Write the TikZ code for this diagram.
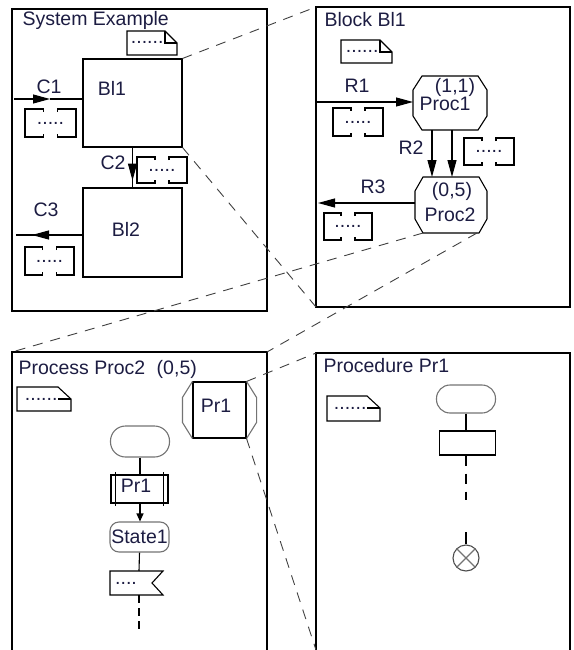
\documentclass[tikz,border=0pt]{standalone}
\usepackage{fontspec}
\setmainfont{Liberation Sans}
\usetikzlibrary{arrows.meta}
\definecolor{txtc}{RGB}{28,28,66}
\definecolor{grc}{RGB}{115,115,115}

% signal list brackets: name, x1, y1, x2, y2
\newcommand\sigbox[5]{%
  \draw ({(#2+#4)/2-7},{#3+3}) -- ({(#2+#4)/2-7},#3) -- (#2,#3) -- (#2,#5) -- ({(#2+#4)/2-7},#5) -- ({(#2+#4)/2-7},{#5-3});
  \draw ({(#2+#4)/2+7},{#3+3}) -- ({(#2+#4)/2+7},#3) -- (#4,#3) -- (#4,#5) -- ({(#2+#4)/2+7},#5) -- ({(#2+#4)/2+7},{#5-3});
  \node[dots] (#1) at ({(#2+#4)/2},{(#3+#5)/2}) {.....};
}
% comment (note) symbol with folded corner
\newcommand\notesym[5]{%
  \draw (#2,#3) -- ({#4-12},#3) -- (#4,{#3+12}) -- (#4,#5) -- (#2,#5) -- cycle;
  \draw ({#4-12},#3) -- ({#4-12},{#3+12}) -- (#4,{#3+12});
  \node[dots,anchor=base east] (#1) at ({#4-13},{#3+13}) {......};
}
% text symbol with cut corner
\newcommand\txtsym[5]{%
  \draw (#2,#3) -- ({#4-13},#3) -- (#4,{#3+12}) -- (#4,#5) -- (#2,#5) -- cycle;
  \draw ({#4-13},{#3+12}) -- (#4,{#3+12});
  \node[dots,anchor=base east] (#1) at ({#4-13},{#3+13}) {......};
}
% octagon (process): name, cx, cy, w, h, dx, dy
\newcommand\octa[7]{%
  \node[inner sep=0pt,outer sep=0pt,minimum width=#4pt,minimum height=#5pt] (#1) at (#2,#3) {};
  \draw ([xshift=#6pt]#1.north west) -- ([xshift=-#6pt]#1.north east) -- ([yshift=-#7pt]#1.north east) -- ([yshift=#7pt]#1.south east) -- ([xshift=-#6pt]#1.south east) -- ([xshift=#6pt]#1.south west) -- ([yshift=#7pt]#1.south west) -- ([yshift=-#7pt]#1.north west) -- cycle;
}

\begin{document}
\begin{tikzpicture}[x=1pt,y=-1pt,line width=1.1pt,
  font=\fontsize{19.5}{23}\selectfont,
  lbl/.style={text=txtc,inner sep=0pt},
  dots/.style={text=txtc,inner sep=0pt},
  zoomln/.style={draw=black!75,line width=0.9pt,dash pattern=on 10pt off 8pt},
  bigtip/.style={-{Triangle[length=17pt,width=9pt]}},
  smalltip/.style={-{Triangle[length=8pt,width=7pt]}},
  blk/.style={draw,inner sep=0pt,minimum width=99pt,minimum height=88pt},
  soft/.style={draw=grc,inner sep=0pt},
  frame/.style={line width=1.3pt},
]
\useasboundingbox (0,0) rectangle (573,650);

% frames
\draw[frame] (12,9) rectangle (267,311);
\draw[frame] (316,7) rectangle (570,307);
\draw[frame] (12,650) -- (12,352) -- (267,352) -- (267,650);
\draw[frame] (316,650) -- (316,353) -- (570,353) -- (570,650);
\coordinate (f2nw) at (316,7);
\coordinate (f2sw) at (316,307);
\coordinate (f3nw) at (12,352);
\coordinate (f3ne) at (267,352);
\coordinate (f4nw) at (316,353);
\coordinate (f4sw) at (316,650);

% ---------- Panel 1: System Example
\node[lbl,anchor=base west] (t1) at (22,26) {System Example};
\notesym{n1}{127}{31}{177}{55}
\node[blk] (bl1) at (132.5,103) {};
\node[lbl] (bl1l) at (112,88) {Bl1};
\node[blk,minimum height=89pt] (bl2) at (132.5,232.5) {};
\node[lbl] (bl2l) at (126,229) {Bl2};

\coordinate (c1a) at (14,99);
\draw[bigtip] (c1a) -- (50,99);
\draw (50,99) -- (bl1.west |- c1a);
\node[lbl] (c1l) at (49,87) {C1};
\sigbox{s1}{25}{109}{76}{137}

\draw (bl1.south) -- (bl2.north);
\draw[bigtip] (bl1.south) -- ([yshift=-33pt]bl1.south);
\node[lbl] (c2l) at (113,163) {C2};
\sigbox{s2}{137}{157}{187}{183}

\coordinate (c3a) at (16,235);
\draw (bl2.west |- c3a) -- (c3a);
\draw[bigtip] (bl2.west |- c3a) -- (32,235);
\node[lbl] (c3l) at (46,210) {C3};
\sigbox{s3}{25}{247}{74}{275}

% ---------- Panel 2: Block Bl1
\node[lbl,anchor=base west] (t2) at (324,27) {Block Bl1};
\notesym{n2}{341}{40}{392}{63}
\octa{proc1}{450}{103}{74}{54}{9}{14}
\node[lbl] (p1a) at (455,87) {(1,1)};
\node[lbl] (p1b) at (445,104) {Proc1};
\octa{proc2}{451}{205}{72}{56}{8}{14}
\node[lbl] (p2a) at (452,191) {(0,5)};
\node[lbl] (p2b) at (450,215) {Proc2};

\coordinate (r1a) at (316,102);
\draw[bigtip] (r1a) -- (proc1.west |- r1a);
\node[lbl] (r1l) at (357,86) {R1};
\sigbox{s4}{333}{108}{383}{136}

\coordinate (r2a) at (432,0);
\coordinate (r2b) at (452,0);
\draw[bigtip] (r2a |- proc1.south) -- (r2a |- proc2.north);
\draw[bigtip] (r2b |- proc1.south) -- (r2b |- proc2.north);
\node[lbl] (r2l) at (411,148) {R2};
\sigbox{s5}{464}{138}{514}{165}

\coordinate (r3a) at (318,203);
\draw[bigtip] (proc2.west |- r3a) -- (r3a);
\node[lbl] (r3l) at (373,187) {R3};
\sigbox{s6}{324}{213}{372}{240}

% ---------- Panel 3: Process Proc2
\node[lbl,anchor=base west] (t3) at (18,374) {Process Proc2\hspace{6pt} (0,5)};
\txtsym{x3}{17}{387}{71}{411}
\node[draw,inner sep=0pt,minimum width=53pt,minimum height=56pt] (pr1r) at (219.5,410) {};
\draw[grc] (pr1r.north west) -- ++(-10pt,-16pt) -- ++(0,-25pt) -- (pr1r.south west);
\draw[grc] (pr1r.north east) -- ++(10pt,-16pt) -- ++(0,-25pt) -- (pr1r.south east);
\node[lbl] (pr1l) at (216,406) {Pr1};

\node[soft,minimum width=59pt,minimum height=31pt,rounded corners=15pt] (st3) at (140,441.5) {};
\node[draw,inner sep=0pt,minimum width=57pt,minimum height=28pt] (call3) at (139.5,489) {};
\draw ([xshift=5pt,yshift=2pt]call3.north west) -- ([xshift=5pt,yshift=-2pt]call3.south west);
\draw ([xshift=-5pt,yshift=2pt]call3.north east) -- ([xshift=-5pt,yshift=-2pt]call3.south east);
\node[lbl] (call3l) at (136,486) {Pr1};
\draw (st3.south) -- (st3.south |- call3.north);
\node[soft,text=txtc,minimum width=59pt,minimum height=30pt,rounded corners=9pt] (st1) at (139.5,537) {State1};
\draw[smalltip] (st3.south |- call3.south) -- (st3.south |- st1.north);
\coordinate (in3top) at (139,571);
\coordinate (in3bot) at (139,595);
\draw (110,571) -- (163,571) -- (152,583) -- (163,595) -- (110,595) -- cycle;
\node[dots] (in3) at (126,583) {....};
\draw (st1.south |- st1.south) -- (in3top);
\coordinate (end3) at (139,632);
\draw[dash pattern=on 8pt off 5pt] (in3bot) -- (end3);

% ---------- Panel 4: Procedure Pr1
\node[lbl,anchor=base west] (t4) at (323,372) {Procedure Pr1};
\txtsym{x4}{327}{396}{380}{421}
\node[soft,minimum width=59pt,minimum height=28pt,rounded corners=13.5pt] (st4) at (466,399) {};
\node[draw,inner sep=0pt,minimum width=56pt,minimum height=24pt] (box4) at (467.5,443) {};
\draw (st4.south) -- (st4.south |- box4.north);
\coordinate (d4end) at (466,500);
\draw[dash pattern=on 10pt off 8pt] (st4.south |- box4.south) -- (d4end);
\node[draw=black!70,circle,inner sep=0pt,minimum size=26pt] (ret4) at (466,558) {};
\draw[grc] (ret4.north west) -- (ret4.south east);
\draw[grc] (ret4.north east) -- (ret4.south west);
\draw ([yshift=12pt]ret4.north) -- (ret4.north);

% ---------- zoom lines
\draw[zoomln] (bl1.north east) -- (f2nw);
\draw[zoomln] (bl1.south east) -- (f2sw);
\draw[zoomln] ([xshift=-28pt]proc2.south) -- (f3nw);
\draw[zoomln] ([xshift=26pt]proc2.south) -- (f3ne);
\draw[zoomln] (pr1r.north east) -- (f4nw);
\draw[zoomln] (pr1r.south east) -- (f4sw);
\end{tikzpicture}
\end{document}
